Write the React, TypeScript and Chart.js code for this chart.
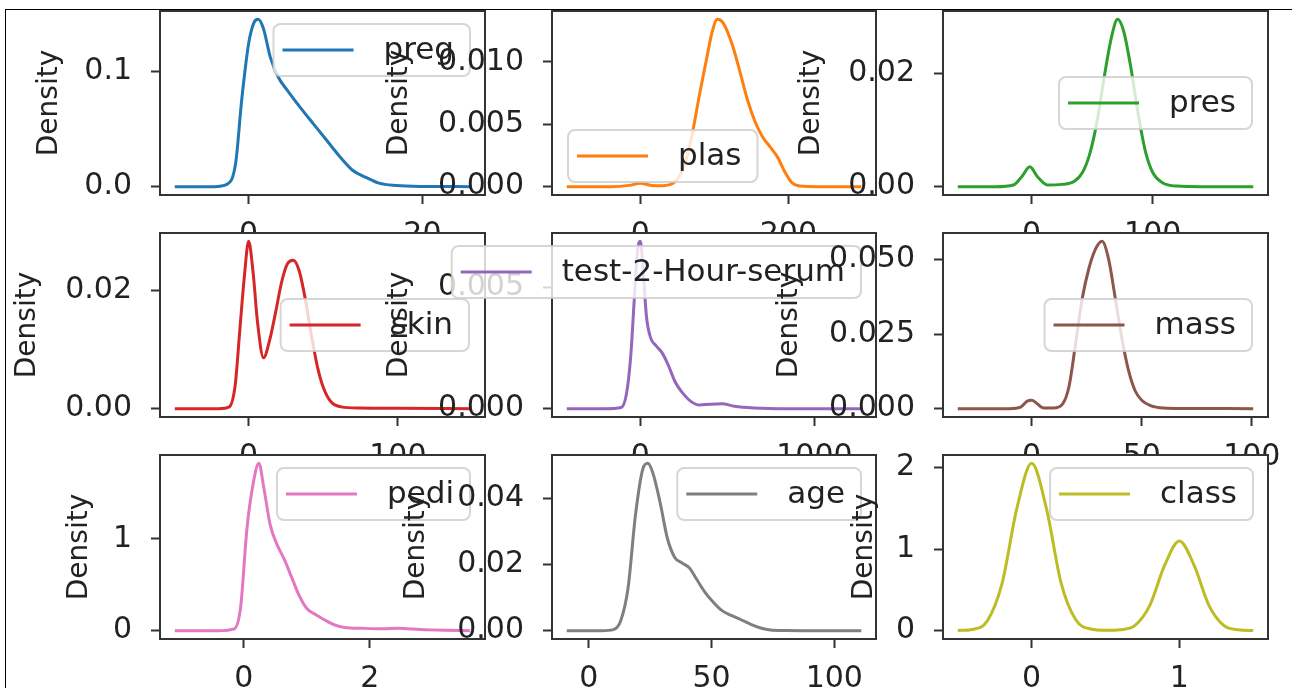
import React, { useEffect, useRef } from 'react';
import { Chart, registerables } from 'chart.js';

Chart.register(...registerables);

// ---------- data ----------
const pregX = [-8.5, -4, -2.5, -1.5, -0.8, 0, 0.6, 1.1, 1.7, 2.5, 3.4, 4.5, 6, 7.5, 9, 10.5, 12, 13.5, 15, 17, 20, 25.5];
const pregY = [0, 0, 0.002, 0.02, 0.075, 0.124, 0.142, 0.145, 0.137, 0.112, 0.095, 0.083, 0.068, 0.054, 0.04, 0.026, 0.014, 0.008, 0.003, 0.001, 0.0002, 0];

const plasX = [-99.5, -40, -15, 0, 15, 30, 45, 60, 70, 80, 90, 97, 104, 112, 124, 135, 145, 155, 165, 175, 185, 195, 205, 215, 240, 298.5];
const plasY = [0, 0, 0.0001, 0.00028, 0.0001, 0.00008, 0.0003, 0.0018, 0.0042, 0.0074, 0.0104, 0.0124, 0.0134, 0.0131, 0.0114, 0.0091, 0.0069, 0.0052, 0.004, 0.0032, 0.0024, 0.0012, 0.0003, 0.00005, 0, 0];

const presX = [-61, -30, -15, -8, -1.5, 5, 13, 25, 35, 42, 48, 54, 60, 66, 71, 76, 82, 88, 94, 100, 108, 120, 140, 183];
const presY = [0, 0, 0.0003, 0.0018, 0.0035, 0.0017, 0.0003, 0.0004, 0.0009, 0.0025, 0.0058, 0.0115, 0.0195, 0.0265, 0.0296, 0.0275, 0.021, 0.0128, 0.0062, 0.0025, 0.0007, 0.0001, 0, 0];

const skinX = [-49.5, -20, -13, -9, -6, -3, 0, 3, 6, 10, 14, 18, 22, 26, 30, 34, 38, 42, 46, 50, 55, 62, 75, 100, 148.5];
const skinY = [0, 0, 0.0003, 0.004, 0.013, 0.022, 0.0283, 0.023, 0.0145, 0.0086, 0.0115, 0.0162, 0.0213, 0.0245, 0.0251, 0.0232, 0.0185, 0.0125, 0.0072, 0.0036, 0.0012, 0.0003, 0.0001, 0.00005, 0];

const testX = [-423, -200, -110, -80, -55, -35, -15, 0, 15, 35, 60, 90, 125, 160, 200, 240, 290, 340, 400, 470, 540, 650, 850, 1269];
const testY = [0, 0, 0.00005, 0.0006, 0.0022, 0.0045, 0.0066, 0.0069, 0.0058, 0.0038, 0.0029, 0.0026, 0.0023, 0.0018, 0.0011, 0.00067, 0.0003, 0.00015, 0.00018, 0.0002, 0.0001, 0.00003, 0, 0];

const massX = [-33.55, -10, -5, -2, 0, 2, 5, 10, 14, 17, 20, 23, 26, 29, 32, 35, 38, 41, 44, 47, 50, 54, 60, 70, 100.65];
const massY = [0, 0, 0.0005, 0.0025, 0.0028, 0.002, 0.0003, 0.0002, 0.0015, 0.0075, 0.022, 0.037, 0.047, 0.0535, 0.0561, 0.05, 0.037, 0.0235, 0.0128, 0.006, 0.0028, 0.001, 0.0002, 0.00005, 0];

const pediX = [-1.093, -0.4, -0.15, -0.05, 0.05, 0.15, 0.24, 0.32, 0.42, 0.52, 0.64, 0.76, 0.88, 1.0, 1.15, 1.3, 1.45, 1.6, 1.9, 2.2, 2.45, 2.8, 3.2, 3.591];
const pediY = [0, 0, 0.02, 0.25, 1.1, 1.6, 1.82, 1.55, 1.15, 0.95, 0.78, 0.58, 0.38, 0.24, 0.17, 0.11, 0.06, 0.035, 0.025, 0.02, 0.025, 0.012, 0.004, 0];

const ageX = [-9, 5, 10, 13, 16, 19, 22, 24, 26, 29, 32, 35, 38, 41, 44, 47, 50, 54, 58, 62, 66, 70, 74, 80, 90, 111];
const ageY = [0, 0, 0.0003, 0.003, 0.013, 0.035, 0.049, 0.0507, 0.048, 0.039, 0.028, 0.0222, 0.0205, 0.019, 0.0155, 0.012, 0.0092, 0.0062, 0.0046, 0.0033, 0.0019, 0.0008, 0.0002, 0.00005, 0, 0];

const classX = [-0.5, -0.4, -0.3, -0.2, -0.1, 0, 0.1, 0.2, 0.3, 0.4, 0.5, 0.6, 0.7, 0.8, 0.9, 1.0, 1.1, 1.2, 1.3, 1.4, 1.5];
const classY = [0.002, 0.015, 0.12, 0.58, 1.5, 2.053, 1.5, 0.58, 0.13, 0.02, 0.005, 0.012, 0.065, 0.31, 0.8, 1.1, 0.8, 0.31, 0.065, 0.01, 0.001];

// tick values and labels
const pregXTicks = [0, 20];
const pregYTicks = [0, 0.1];
const pregYLabels = ['0.0', '0.1'];
const plasXTicks = [0, 200];
const plasYTicks = [0, 0.005, 0.01];
const plasYLabels = ['0.000', '0.005', '0.010'];
const presXTicks = [0, 100];
const presYTicks = [0, 0.02];
const presYLabels = ['0.00', '0.02'];
const skinXTicks = [0, 100];
const skinYTicks = [0, 0.02];
const skinYLabels = ['0.00', '0.02'];
const testXTicks = [0, 1000];
const testYTicks = [0, 0.005];
const testYLabels = ['0.000', '0.005'];
const massXTicks = [0, 50, 100];
const massYTicks = [0, 0.025, 0.05];
const massYLabels = ['0.000', '0.025', '0.050'];
const pediXTicks = [0, 2];
const pediYTicks = [0, 1];
const pediYLabels = ['0', '1'];
const ageXTicks = [0, 50, 100];
const ageYTicks = [0, 0.02, 0.04];
const ageYLabels = ['0.00', '0.02', '0.04'];
const classXTicks = [0, 1];
const classYTicks = [0, 1, 2];
const classYLabels = ['0', '1', '2'];

const seriesNames = ['preg', 'plas', 'pres', 'skin', 'test-2-Hour-serum', 'mass', 'pedi', 'age', 'class'];

// ---------- styling / layout ----------
const COLORS = ['#1f77b4', '#ff7f0e', '#2ca02c', '#d62728', '#9467bd', '#8c564b', '#e377c2', '#7f7f7f', '#bcbd22'];
const COL_LEFT = [160, 552, 943];
const COL_RIGHT = [485, 876, 1268];
const ROW_TOP = [11, 233, 455];
const ROW_BOTTOM = [195, 417, 639];
const TITLE_X = [50, 400, 812, 28, 400, 790, 80, 417, 865];
const LEGEND_LOC = ['ur', 'll', 'cr', 'cr', 'ur', 'cr', 'ur', 'ur', 'ur'];
const FONT = '"DejaVu Sans", "Liberation Sans", sans-serif';
const TEXT = '#222';
const SPINE = '#333';
const W = 1292;
const H = 688;
const TITLE_SIZE = 28;
const TICK_SIZE = 30;
const LEGEND_SIZE = 31;
const XAXIS_H = 50;

const PANELS = [
  { xs: pregX, ys: pregY, xt: pregXTicks, yt: pregYTicks, yl: pregYLabels },
  { xs: plasX, ys: plasY, xt: plasXTicks, yt: plasYTicks, yl: plasYLabels },
  { xs: presX, ys: presY, xt: presXTicks, yt: presYTicks, yl: presYLabels },
  { xs: skinX, ys: skinY, xt: skinXTicks, yt: skinYTicks, yl: skinYLabels },
  { xs: testX, ys: testY, xt: testXTicks, yt: testYTicks, yl: testYLabels },
  { xs: massX, ys: massY, xt: massXTicks, yt: massYTicks, yl: massYLabels },
  { xs: pediX, ys: pediY, xt: pediXTicks, yt: pediYTicks, yl: pediYLabels },
  { xs: ageX, ys: ageY, xt: ageXTicks, yt: ageYTicks, yl: ageYLabels },
  { xs: classX, ys: classY, xt: classXTicks, yt: classYTicks, yl: classYLabels },
];

function roundRectPath(ctx: CanvasRenderingContext2D, x: number, y: number, w: number, h: number, r: number) {
  ctx.beginPath();
  ctx.moveTo(x + r, y);
  ctx.lineTo(x + w - r, y);
  ctx.arcTo(x + w, y, x + w, y + r, r);
  ctx.lineTo(x + w, y + h - r);
  ctx.arcTo(x + w, y + h, x + w - r, y + h, r);
  ctx.lineTo(x + r, y + h);
  ctx.arcTo(x, y + h, x, y + h - r, r);
  ctx.lineTo(x, y + r);
  ctx.arcTo(x, y, x + r, y, r);
  ctx.closePath();
}

function makePanelPlugin(idx: number) {
  return {
    id: 'panel' + idx,
    beforeDraw(chart: any) {
      const { ctx, chartArea: a } = chart;
      ctx.save();
      ctx.fillStyle = '#ffffff';
      ctx.fillRect(a.left, a.top, a.right - a.left, a.bottom - a.top);
      ctx.restore();
    },
    afterDatasetsDraw(chart: any) {
      const { ctx, chartArea: a } = chart;
      ctx.save();
      ctx.strokeStyle = SPINE;
      ctx.lineWidth = 2;
      ctx.strokeRect(a.left, a.top, a.right - a.left, a.bottom - a.top);
      ctx.restore();
    },
    afterDraw(chart: any) {
      const { ctx, chartArea: a } = chart;
      const name = seriesNames[idx];
      ctx.save();
      ctx.font = `${LEGEND_SIZE}px ${FONT}`;
      const tw = ctx.measureText(name).width;
      const bw = 9 + 71 + 30 + tw + 16;
      const bh = 52;
      const loc = LEGEND_LOC[idx];
      let bx = a.right - 15 - bw;
      let by = a.top + 13;
      if (loc === 'll') {
        bx = a.left + 16;
        by = a.bottom - 13 - bh;
      } else if (loc === 'cr') {
        bx = a.right - 16 - bw;
        by = (a.top + a.bottom) / 2 - bh / 2;
      }
      roundRectPath(ctx, bx, by, bw, bh, 7);
      ctx.fillStyle = 'rgba(255,255,255,0.8)';
      ctx.fill();
      ctx.strokeStyle = 'rgba(204,204,204,0.8)';
      ctx.lineWidth = 2;
      ctx.stroke();
      const cy = by + bh / 2;
      ctx.beginPath();
      ctx.moveTo(bx + 9, cy);
      ctx.lineTo(bx + 80, cy);
      ctx.strokeStyle = COLORS[idx];
      ctx.lineWidth = 3;
      ctx.stroke();
      ctx.fillStyle = TEXT;
      ctx.textBaseline = 'middle';
      ctx.textAlign = 'left';
      ctx.fillText(name, bx + 110, cy + 1);
      ctx.restore();
    },
  };
}

export default function App() {
  const refs = useRef<(HTMLCanvasElement | null)[]>([]);

  useEffect(() => {
    const charts: Chart[] = [];
    PANELS.forEach((p, idx) => {
      const canvas = refs.current[idx];
      if (!canvas) return;
      const col = idx % 3;
      const row = Math.floor(idx / 3);
      const left = COL_LEFT[col];
      const right = COL_RIGHT[col];
      const top = ROW_TOP[row];
      const bottom = ROW_BOTTOM[row];
      const lh = TITLE_SIZE * 1.2;
      const padLeft = TITLE_X[idx] - lh / 2;
      const yAxisW = left - padLeft;

      const xmin = Math.min(...p.xs);
      const xmax = Math.max(...p.xs);
      const xr = xmax - xmin;
      const ymax = Math.max(...p.ys);

      const chart = new Chart(canvas, {
        type: 'line',
        data: {
          datasets: [
            {
              label: seriesNames[idx],
              data: p.xs.map((x, i) => ({ x, y: p.ys[i] })),
              borderColor: COLORS[idx],
              backgroundColor: COLORS[idx],
              borderWidth: 3,
              pointRadius: 0,
              fill: false,
              cubicInterpolationMode: 'monotone',
            },
          ],
        },
        options: {
          animation: false,
          responsive: false,
          maintainAspectRatio: false,
          devicePixelRatio: 1,
          events: [],
          layout: {
            padding: {
              left: padLeft,
              top: top,
              right: W - right,
              bottom: H - bottom - XAXIS_H,
            },
          },
          plugins: {
            legend: { display: false },
            tooltip: { enabled: false },
            title: { display: false },
          },
          scales: {
            x: {
              type: 'linear',
              position: 'bottom',
              min: xmin - 0.05 * xr,
              max: xmax + 0.05 * xr,
              bounds: 'data',
              afterBuildTicks: (s: any) => {
                s.ticks = p.xt.map((v) => ({ value: v }));
              },
              afterFit: (s: any) => {
                s.height = XAXIS_H;
                s.paddingLeft = 0;
                s.paddingRight = 0;
              },
              ticks: {
                autoSkip: false,
                maxRotation: 0,
                minRotation: 0,
                padding: 13,
                color: TEXT,
                font: { family: FONT, size: TICK_SIZE },
                callback: (v: any) => String(v),
              },
              grid: {
                drawOnChartArea: false,
                drawTicks: true,
                tickLength: 9,
                tickWidth: 2,
                tickColor: SPINE,
              },
              border: { display: false },
            },
            y: {
              type: 'linear',
              position: 'left',
              min: -0.05 * ymax,
              max: 1.05 * ymax,
              bounds: 'data',
              afterBuildTicks: (s: any) => {
                s.ticks = p.yt.map((v) => ({ value: v }));
              },
              afterFit: (s: any) => {
                s.width = yAxisW;
                s.paddingTop = 0;
                s.paddingBottom = 0;
              },
              ticks: {
                autoSkip: false,
                padding: 19,
                color: TEXT,
                font: { family: FONT, size: TICK_SIZE },
                callback: (_v: any, i: number) => p.yl[i],
              },
              grid: {
                drawOnChartArea: false,
                drawTicks: true,
                tickLength: 9,
                tickWidth: 2,
                tickColor: SPINE,
              },
              border: { display: false },
              title: {
                display: true,
                text: 'Density',
                color: TEXT,
                padding: 0,
                font: { family: FONT, size: TITLE_SIZE, lineHeight: 1.2 },
              },
            },
          },
        },
        plugins: [makePanelPlugin(idx)],
      } as any);
      charts.push(chart);
    });
    return () => {
      charts.forEach((c) => c.destroy());
    };
  }, []);

  return (
    <div style={{ position: 'absolute', left: 0, top: 0, width: W, height: H, background: '#fff', overflow: 'hidden' }}>
      <div
        style={{
          position: 'absolute',
          left: 5,
          top: 9,
          width: W - 5,
          height: H - 9,
          borderTop: '1px solid #000',
          borderLeft: '1px solid #000',
          boxSizing: 'border-box',
        }}
      />
      {PANELS.map((_, i) => (
        <canvas
          key={i}
          ref={(el) => {
            refs.current[i] = el;
          }}
          width={W}
          height={H}
          style={{ position: 'absolute', left: 0, top: 0, width: W, height: H }}
        />
      ))}
    </div>
  );
}
